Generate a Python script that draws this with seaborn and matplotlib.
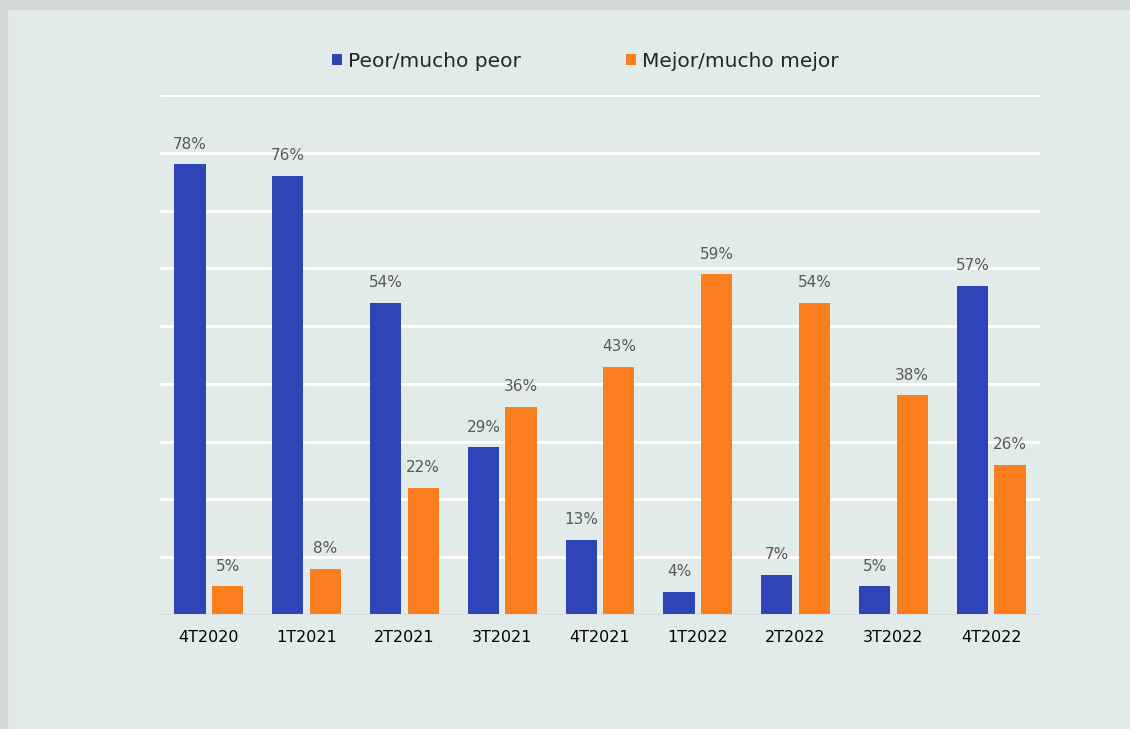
import matplotlib
matplotlib.use("Agg")
import matplotlib.pyplot as plt
import seaborn as sns
import pandas as pd
from matplotlib.patches import Rectangle

# Data
quarters = ["4T2020", "1T2021", "2T2021", "3T2021", "4T2021", "1T2022", "2T2022", "3T2022", "4T2022"]
peor = [78, 76, 54, 29, 13, 4, 7, 5, 57]
mejor = [5, 8, 22, 36, 43, 59, 54, 38, 26]
series_names = ["Peor/mucho peor", "Mejor/mucho mejor"]

df = pd.DataFrame({
    "trimestre": quarters * 2,
    "valor": peor + mejor,
    "serie": [series_names[0]] * len(quarters) + [series_names[1]] * len(quarters),
})

bg = "#e0ebea"
colors = ["#2e44b7", "#fa7d1e"]

sns.set_style("white")
plt.rcParams["font.family"] = ["DejaVu Sans"]

fig = plt.figure(figsize=(11.3, 7.29), dpi=100, facecolor=bg)
ax = fig.add_axes([0.1416, 0.1564, 0.7788, 0.7133])
ax.set_facecolor(bg)

sns.barplot(data=df, x="trimestre", y="valor", hue="serie", palette=colors,
            width=0.77, gap=0.17, ax=ax, saturation=1, legend=True, linewidth=0)

ax.set_ylim(0, 90)
ax.set_yticks(range(0, 91, 10))
ax.yaxis.grid(True, color="white", linewidth=2.2)
ax.set_axisbelow(True)
ax.tick_params(axis="y", left=False, labelleft=False)
ax.tick_params(axis="x", bottom=False, labelsize=11.5, pad=7, colors="black")
for s in ax.spines.values():
    s.set_visible(False)
ax.axhline(0, color="#d8dede", linewidth=1.5, zorder=1)
ax.set_xlabel("")
ax.set_ylabel("")

for cont in ax.containers:
    ax.bar_label(cont, fmt="%d%%", padding=9, color="#595959", fontsize=11)

ax.legend(loc="center", bbox_to_anchor=(0.483, 1.065), ncol=2, frameon=False,
          fontsize=14.5, handlelength=0.5, handleheight=0.5, handletextpad=0.3,
          columnspacing=5.2)

# frame border of the original image
fig.add_artist(Rectangle((0, 1 - 9 / 729), 1, 9 / 729, transform=fig.transFigure,
                         color="#d4d8d8", zorder=0))
fig.add_artist(Rectangle((0, 0), 7 / 1130, 1, transform=fig.transFigure,
                         color="#d4d8d8", zorder=0))

fig.savefig("out.png", dpi=100, facecolor=bg)
plt.close(fig)
